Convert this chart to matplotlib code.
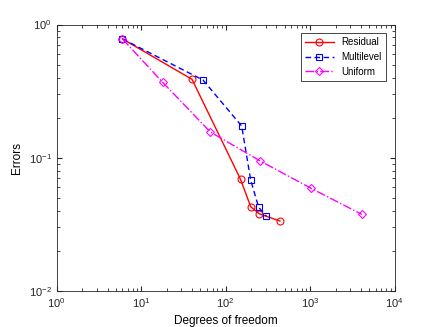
import numpy as np
import matplotlib
matplotlib.use('Agg')
import matplotlib.pyplot as plt

plt.rcParams['font.family'] = ['Liberation Sans', 'DejaVu Sans']

# data
res_dof = [6, 40, 150, 198, 250, 440]
res_err = [0.78, 0.388, 0.069, 0.043, 0.038, 0.0335]

multi_dof = [6, 54, 155, 198, 246, 303]
multi_err = [0.78, 0.383, 0.173, 0.068, 0.0425, 0.0365]

uni_dof = [6, 18, 66, 258, 1026, 4098]
uni_err = [0.78, 0.368, 0.156, 0.0945, 0.059, 0.0376]

fig = plt.figure(figsize=(4.36, 3.27), dpi=100)
ax = fig.add_axes([0.13, 0.11, 0.775, 0.815])

ax.loglog(res_dof, res_err, '-o', color='#ff0000', mfc='none', ms=5, lw=1, mew=0.8, label='Residual')
ax.loglog(multi_dof, multi_err, '--s', color='#0000ff', mfc='none', ms=5, lw=1, mew=0.8,
          dashes=(4, 2.5), label='Multilevel')
ax.loglog(uni_dof, uni_err, '-.D', color='#ff00ff', mfc='none', ms=4.5, lw=1, mew=0.8,
          label='Uniform')

ax.set_xlim(1, 1e4)
ax.set_ylim(1e-2, 1)
ax.set_xlabel('Degrees of freedom', fontsize=8.5)
ax.set_ylabel('Errors', fontsize=8.5)

ax.tick_params(which='both', direction='in', top=True, right=True, labelsize=8, colors='#262626')
ax.tick_params(which='major', length=3.5)
ax.tick_params(which='minor', length=2)
for s in ax.spines.values():
    s.set_color('#262626')
    s.set_linewidth(0.6)

leg = ax.legend(loc='upper right', fontsize=7, fancybox=False, framealpha=1,
                edgecolor='#262626', borderaxespad=0.9, handlelength=3)
leg.get_frame().set_linewidth(0.6)

fig.savefig('out.png', dpi=100)
